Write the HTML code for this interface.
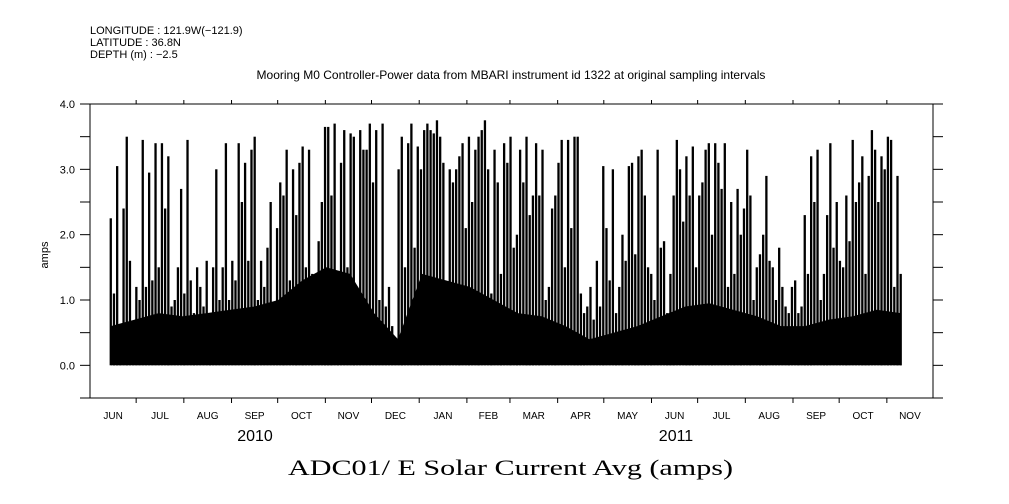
<!DOCTYPE html>
<html><head><meta charset="utf-8"><style>
html,body{margin:0;padding:0;background:#fff;}
svg{display:block;font-family:"Liberation Sans",sans-serif;}
</style></head><body>
<svg id="chart" width="1009" height="504" viewBox="0 0 1009 504" xmlns="http://www.w3.org/2000/svg">
<rect x="0" y="0" width="1009" height="504" fill="#fff"/>
<g font-size="11" fill="#000">
<text x="90" y="34">LONGITUDE : 121.9W(−121.9)</text>
<text x="90" y="46">LATITUDE : 36.8N</text>
<text x="90" y="58">DEPTH (m) : −2.5</text>
</g>
<text x="511" y="79" text-anchor="middle" font-size="12">Mooring M0 Controller-Power data from MBARI instrument id 1322 at original sampling intervals</text>
<g id="data"></g>
<g id="axes" stroke="#000" stroke-width="1" fill="none"></g>
<g id="labels" fill="#000"></g>
<text x="0" y="0" transform="translate(48,255) rotate(-90)" text-anchor="middle" font-size="11">amps</text>
<text x="255" y="441" text-anchor="middle" font-size="16">2010</text>
<text x="676" y="441" text-anchor="middle" font-size="16">2011</text>
<text x="288" y="475" font-family="'Liberation Serif',serif" font-size="22" textLength="445" lengthAdjust="spacingAndGlyphs">ADC01/ E Solar Current Avg (amps)</text>
</svg>
<script>
const monthLabels = ["JUN","JUL","AUG","SEP","OCT","NOV","DEC","JAN","FEB","MAR","APR","MAY","JUN","JUL","AUG","SEP","OCT","NOV"];
const monthDays = [30,31,31,30,31,30,31,31,28,31,30,31,30,31,31,30,31,30];
const yTicks = [-0.5,0,0.5,1,1.5,2,2.5,3,3.5,4];
const yLabels = ["0.0","1.0","2.0","3.0","4.0"];
const yLabelVals = [0,1,2,3,4];
const dataStartDay = 13.5;
const dataEndDay = 527;
// peak current per ~2-day bin (amps)
const peaks = [
2.25,1.1,3.05,0.2,2.4,3.5,1.6,0.3,1.2,
1.0,3.45,1.2,2.95,1.3,3.4,1.5,3.4,2.4,3.2,0.9,1.0,1.5,2.7,1.1,
3.45,1.3,0.8,1.5,1.2,0.9,1.6,0.8,1.5,3.0,1.0,1.5,3.4,1.0,1.6,
1.3,3.4,2.5,3.1,1.6,3.3,3.5,1.0,1.6,1.2,1.8,2.5,0.7,2.1,2.8,
2.6,3.3,1.3,3.0,2.3,3.1,3.35,1.5,3.3,1.4,0.9,1.9,2.5,3.65,3.65,
2.6,3.7,1.1,3.1,3.6,1.5,3.55,3.5,1.2,3.6,3.3,3.3,3.7,2.8,3.6,
1.0,3.7,0.9,1.2,0.6,0.3,3.0,3.5,1.5,3.4,3.7,1.8,3.35,3.0,3.6,
3.7,3.6,3.55,3.75,3.5,3.1,1.2,3.0,2.8,3.0,3.2,3.4,2.1,3.5,2.5,
3.3,3.5,3.6,3.75,3.0,1.1,3.3,2.8,1.4,3.4,3.1,3.5,1.8,2.0,
3.3,2.8,3.5,2.3,2.6,3.4,2.6,3.3,1.0,1.2,2.4,2.6,3.1,3.45,1.5,
3.45,2.1,3.5,3.5,1.1,0.8,0.9,1.2,0.7,1.6,0.9,3.05,2.1,1.3,3.0,
0.8,1.2,2.0,1.6,3.05,3.1,1.7,3.2,3.3,2.6,1.5,1.4,1.0,3.3,1.8,
1.9,0.8,1.4,2.6,3.45,3.0,2.2,3.2,2.6,3.35,1.5,2.6,2.8,3.3,3.4,
2.0,3.4,3.1,2.7,3.4,1.2,2.5,1.4,2.7,2.0,2.4,3.3,2.6,1.0,1.5,
1.7,2.0,2.9,1.6,1.5,1.0,1.8,1.2,0.9,0.8,1.2,1.3,0.8,0.9,2.3,
1.4,3.2,2.5,3.3,1.0,1.4,2.3,3.4,1.8,2.5,1.6,1.5,2.6,1.9,3.45,
2.5,2.8,3.2,1.4,2.9,3.6,3.3,2.5,3.2,3.0,3.5,3.45,1.2,2.9,1.4];
// dense baseline level per half month (amps)
const baseLevels = [0.6,0.7,0.8,0.75,0.8,0.85,0.9,1.0,1.3,1.5,1.4,0.8,0.4,1.4,1.3,1.2,1.0,0.8,0.75,0.6,0.4,0.5,0.6,0.75,0.9,0.95,0.85,0.75,0.6,0.6,0.7,0.75,0.85,0.8];

const NS="http://www.w3.org/2000/svg";
const X0=90,X1=933,Y0=398,Y1=104,YMIN=-0.5,YMAX=4.0;
const totalDays = monthDays.reduce((a,b)=>a+b,0);
function xDay(d){return X0+(X1-X0)*d/totalDays;}
function yVal(v){return Y0-(Y0-Y1)*(v-YMIN)/(YMAX-YMIN);}
function mk(tag,attrs,parent){const e=document.createElementNS(NS,tag);for(const k in attrs)e.setAttribute(k,attrs[k]);parent.appendChild(e);return e;}

const gd=document.getElementById('data');
let pts=[];
const bStep=(dataEndDay-dataStartDay)/(baseLevels.length-1);
baseLevels.forEach((v,i)=>{pts.push(xDay(dataStartDay+i*bStep).toFixed(1)+','+yVal(v).toFixed(1));});
pts.push(xDay(dataEndDay).toFixed(1)+','+yVal(0).toFixed(1));
pts.push(xDay(dataStartDay).toFixed(1)+','+yVal(0).toFixed(1));
const area=mk('polygon',{points:pts.join(' '),fill:'#000'},gd);


const pStep=(dataEndDay-dataStartDay)/(peaks.length-1);
peaks.forEach((v,i)=>{
  const x=xDay(dataStartDay+i*pStep);
  const r=mk('rect',{x:(x-1.15).toFixed(2),y:yVal(v).toFixed(1),width:2.3,height:(yVal(0)-yVal(v)).toFixed(1),fill:'#000'},gd);
  
  
});

const ga=document.getElementById('axes');
const frame=mk('rect',{x:X0,y:Y1,width:X1-X0,height:Y0-Y1},ga);


mk('line',{x1:80,y1:Y0,x2:X0,y2:Y0},ga);
mk('line',{x1:X1,y1:Y0,x2:943,y2:Y0},ga);
yTicks.forEach(v=>{
  const y=yVal(v);
  const t=mk('line',{x1:80,y1:y,x2:X0,y2:y},ga);
  
  
  const t2=mk('line',{x1:X1,y1:y,x2:943,y2:y},ga);
  
  
});
const gl=document.getElementById('labels');
yLabelVals.forEach((v,i)=>{
  const t=mk('text',{x:75,y:yVal(v)+4,'text-anchor':'end','font-size':11},gl);
  t.textContent=yLabels[i];
  
  
});
let d=0;
monthLabels.forEach((m,i)=>{
  const xs=xDay(d), xe=xDay(d+monthDays[i]);
  if(i>0){
    const tb=mk('line',{x1:xs,y1:Y0,x2:xs,y2:Y0+5},ga);
    
    
    const tt=mk('line',{x1:xs,y1:Y1-4,x2:xs,y2:Y1},ga);
    
    
  }
  const t=mk('text',{x:((xs+xe)/2).toFixed(1),y:419,'text-anchor':'middle','font-size':10},gl);
  t.textContent=m;
  
  
  d+=monthDays[i];
});
</script>
</body></html>
